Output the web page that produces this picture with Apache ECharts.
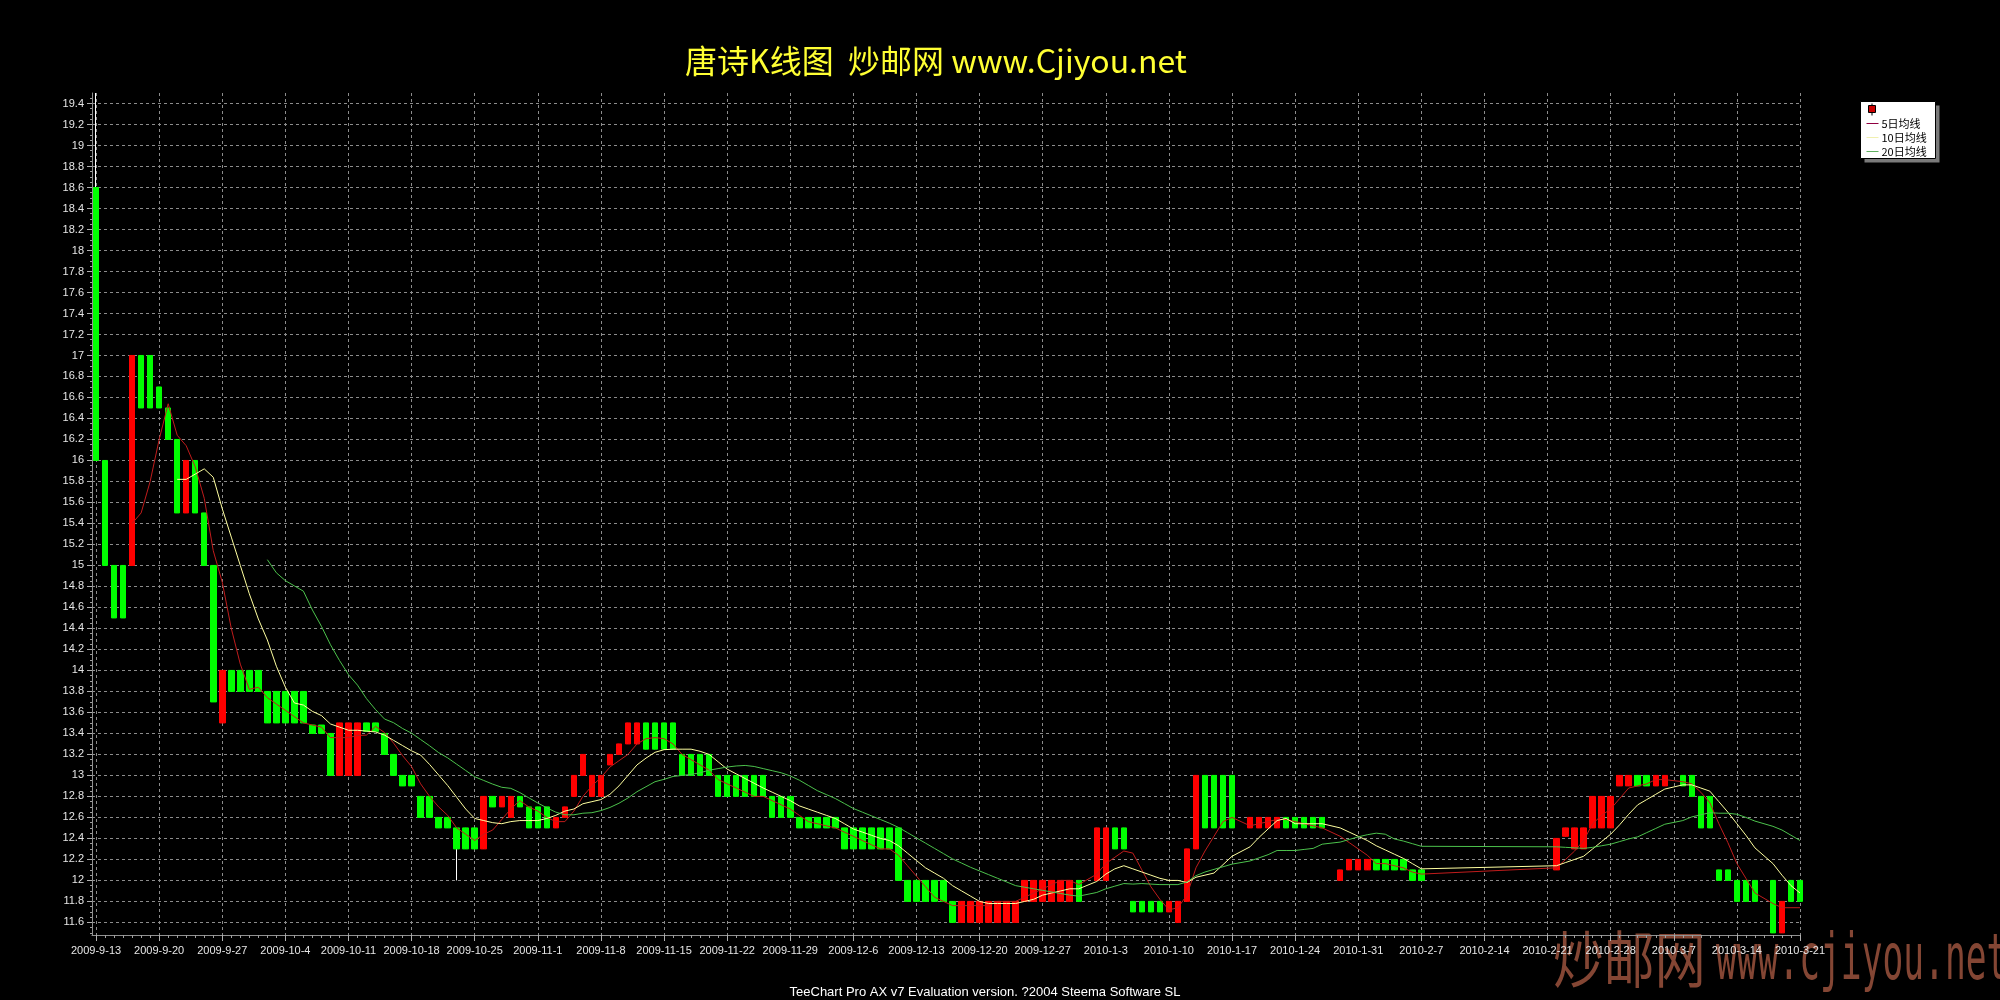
<!DOCTYPE html>
<html><head><meta charset="utf-8">
<script src="https://cdn.jsdelivr.net/npm/echarts@6/dist/echarts.min.js"></script>
<style>html,body{margin:0;padding:0;background:#000;}#c{width:2000px;height:1000px;}</style>
</head><body><div id="c"></div>
<script>
// ---- data (one candle per trading day) ----
const dates = [
'2009-09-13','2009-09-14','2009-09-15','2009-09-16','2009-09-17','2009-09-18','2009-09-19',
'2009-09-20','2009-09-21','2009-09-22','2009-09-23','2009-09-24','2009-09-25','2009-09-26',
'2009-09-27','2009-09-28','2009-09-29','2009-09-30','2009-10-01','2009-10-02','2009-10-03',
'2009-10-04','2009-10-05','2009-10-06','2009-10-07','2009-10-08','2009-10-09','2009-10-10',
'2009-10-11','2009-10-12','2009-10-13','2009-10-14','2009-10-15','2009-10-16','2009-10-17',
'2009-10-18','2009-10-19','2009-10-20','2009-10-21','2009-10-22','2009-10-23','2009-10-24',
'2009-10-25','2009-10-26','2009-10-27','2009-10-28','2009-10-29','2009-10-30','2009-10-31',
'2009-11-01','2009-11-02','2009-11-03','2009-11-04','2009-11-05','2009-11-06','2009-11-07',
'2009-11-08','2009-11-09','2009-11-10','2009-11-11','2009-11-12','2009-11-13','2009-11-14',
'2009-11-15','2009-11-16','2009-11-17','2009-11-18','2009-11-19','2009-11-20','2009-11-21',
'2009-11-22','2009-11-23','2009-11-24','2009-11-25','2009-11-26','2009-11-27','2009-11-28',
'2009-11-29','2009-11-30','2009-12-01','2009-12-02','2009-12-03','2009-12-04','2009-12-05',
'2009-12-06','2009-12-07','2009-12-08','2009-12-09','2009-12-10','2009-12-11','2009-12-12',
'2009-12-13','2009-12-14','2009-12-15','2009-12-16','2009-12-17','2009-12-18','2009-12-19',
'2009-12-20','2009-12-21','2009-12-22','2009-12-23','2009-12-24','2009-12-25','2009-12-26',
'2009-12-27','2009-12-28','2009-12-29','2009-12-30','2009-12-31','2010-01-02',
'2010-01-03','2010-01-04','2010-01-05','2010-01-06','2010-01-07','2010-01-08','2010-01-09',
'2010-01-10','2010-01-11','2010-01-12','2010-01-13','2010-01-14','2010-01-15','2010-01-16',
'2010-01-17','2010-01-19','2010-01-20','2010-01-21','2010-01-22','2010-01-23',
'2010-01-24','2010-01-25','2010-01-26','2010-01-27','2010-01-29','2010-01-30',
'2010-01-31','2010-02-01','2010-02-02','2010-02-03','2010-02-04','2010-02-05','2010-02-06',
'2010-02-07',
'2010-02-22','2010-02-23','2010-02-24','2010-02-25','2010-02-26','2010-02-27',
'2010-02-28','2010-03-01','2010-03-02','2010-03-03','2010-03-04','2010-03-05','2010-03-06',
'2010-03-08','2010-03-09','2010-03-10','2010-03-11','2010-03-12','2010-03-13',
'2010-03-14','2010-03-15','2010-03-16','2010-03-18','2010-03-19','2010-03-20',
'2010-03-21'
];
const opens = [
18.6,16.0,15.0,15.0,15.0,17.0,17.0,
16.7,16.5,16.2,15.5,16.0,15.5,15.0,
13.5,14.0,14.0,14.0,14.0,13.8,13.8,
13.8,13.8,13.8,13.48,13.48,13.4,13.0,
13.0,13.0,13.5,13.5,13.4,13.2,13.0,
13.0,12.8,12.8,12.6,12.6,12.5,12.5,
12.5,12.3,12.8,12.7,12.6,12.8,12.7,
12.7,12.7,12.5,12.6,12.8,13.0,12.8,
12.8,13.1,13.2,13.3,13.3,13.5,13.5,
13.5,13.5,13.2,13.2,13.2,13.2,13.0,
13.0,13.0,13.0,13.0,13.0,12.8,12.8,
12.8,12.6,12.6,12.6,12.6,12.6,12.5,
12.5,12.5,12.5,12.5,12.5,12.5,12.0,
12.0,12.0,12.0,12.0,11.8,11.6,11.6,
11.6,11.6,11.6,11.6,11.6,11.8,11.8,
11.8,11.8,11.8,11.8,12.0,12.0,
12.0,12.5,12.5,11.8,11.8,11.8,11.8,
11.7,11.6,11.8,12.3,13.0,13.0,13.0,
13.0,12.5,12.5,12.5,12.5,12.6,
12.6,12.6,12.6,12.6,12.0,12.1,
12.1,12.1,12.2,12.2,12.2,12.2,12.1,
12.1,
12.1,12.42,12.3,12.3,12.5,12.5,
12.5,12.9,12.9,13.0,13.0,12.9,12.9,
13.0,13.0,12.8,12.8,12.1,12.1,
12.0,12.0,12.0,12.0,11.5,12.0,
12.0
];
const closes = [
16.0,15.0,14.5,14.5,17.0,16.5,16.5,
16.5,16.2,15.5,16.0,15.5,15.0,13.7,
14.0,13.8,13.8,13.8,13.8,13.5,13.5,
13.5,13.5,13.5,13.4,13.4,13.0,13.5,
13.5,13.5,13.42,13.42,13.2,13.0,12.9,
12.9,12.6,12.6,12.5,12.5,12.3,12.3,
12.3,12.8,12.7,12.8,12.8,12.7,12.5,
12.5,12.5,12.6,12.7,13.0,13.2,13.0,
13.0,13.2,13.3,13.5,13.5,13.25,13.25,
13.25,13.25,13.0,13.0,13.0,13.0,12.8,
12.8,12.8,12.8,12.8,12.8,12.6,12.6,
12.6,12.5,12.5,12.5,12.5,12.5,12.3,
12.3,12.3,12.3,12.3,12.3,12.0,11.8,
11.8,11.8,11.8,11.8,11.6,11.8,11.8,
11.8,11.8,11.8,11.8,11.8,12.0,12.0,
12.0,12.0,12.0,12.0,11.8,12.5,
12.5,12.3,12.3,11.7,11.7,11.7,11.7,
11.8,11.8,12.3,13.0,12.5,12.5,12.5,
12.5,12.6,12.6,12.6,12.6,12.5,
12.5,12.5,12.5,12.5,12.1,12.2,
12.2,12.2,12.1,12.1,12.1,12.1,12.0,
12.0,
12.4,12.5,12.5,12.5,12.8,12.8,
12.8,13.0,13.0,12.9,12.9,13.0,13.0,
12.9,12.8,12.5,12.5,12.0,12.0,
11.8,11.8,11.8,11.5,11.8,11.8,
11.8
];
const lows = [
16.0,15.0,14.5,14.5,15.0,16.5,16.5,
16.5,16.2,15.5,15.5,15.5,15.0,13.7,
13.5,13.8,13.8,13.8,13.8,13.5,13.5,
13.5,13.5,13.5,13.4,13.4,13.0,13.0,
13.0,13.0,13.42,13.42,13.2,13.0,12.9,
12.9,12.6,12.6,12.5,12.5,12.0,12.3,
12.3,12.3,12.7,12.7,12.6,12.7,12.5,
12.5,12.5,12.5,12.6,12.8,13.0,12.8,
12.8,13.1,13.2,13.3,13.3,13.25,13.25,
13.25,13.25,13.0,13.0,13.0,13.0,12.8,
12.8,12.8,12.8,12.8,12.8,12.6,12.6,
12.6,12.5,12.5,12.5,12.5,12.5,12.3,
12.3,12.3,12.3,12.3,12.3,12.0,11.8,
11.8,11.8,11.8,11.8,11.6,11.6,11.6,
11.6,11.6,11.6,11.6,11.6,11.8,11.8,
11.8,11.8,11.8,11.8,11.8,12.0,
12.0,12.3,12.3,11.7,11.7,11.7,11.7,
11.7,11.6,11.8,12.3,12.5,12.5,12.5,
12.5,12.5,12.5,12.5,12.5,12.5,
12.5,12.5,12.5,12.5,12.0,12.1,
12.1,12.1,12.1,12.1,12.1,12.1,12.0,
12.0,
12.1,12.42,12.3,12.3,12.5,12.5,
12.5,12.9,12.9,12.9,12.9,12.9,12.9,
12.9,12.8,12.5,12.5,12.0,12.0,
11.8,11.8,11.8,11.5,11.5,11.8,
11.8
];
const highs = [
19.5,16.0,15.0,15.0,17.0,17.0,17.0,
16.7,16.5,16.2,16.0,16.0,15.5,15.0,
14.0,14.0,14.0,14.0,14.0,13.8,13.8,
13.8,13.8,13.8,13.48,13.48,13.4,13.5,
13.5,13.5,13.5,13.5,13.4,13.2,13.0,
13.0,12.8,12.8,12.6,12.6,12.5,12.5,
12.5,12.8,12.8,12.8,12.8,12.8,12.7,
12.7,12.7,12.6,12.7,13.0,13.2,13.0,
13.0,13.2,13.3,13.5,13.5,13.5,13.5,
13.5,13.5,13.2,13.2,13.2,13.2,13.0,
13.0,13.0,13.0,13.0,13.0,12.8,12.8,
12.8,12.6,12.6,12.6,12.6,12.6,12.5,
12.5,12.5,12.5,12.5,12.5,12.5,12.0,
12.0,12.0,12.0,12.0,11.8,11.8,11.8,
11.8,11.8,11.8,11.8,11.8,12.0,12.0,
12.0,12.0,12.0,12.0,12.0,12.5,
12.5,12.5,12.5,11.8,11.8,11.8,11.8,
11.8,11.8,12.3,13.0,13.0,13.0,13.0,
13.0,12.6,12.6,12.6,12.6,12.6,
12.6,12.6,12.6,12.6,12.1,12.2,
12.2,12.2,12.2,12.2,12.2,12.2,12.1,
12.1,
12.4,12.5,12.5,12.5,12.8,12.8,
12.8,13.0,13.0,13.0,13.0,13.0,13.0,
13.0,13.0,12.8,12.8,12.1,12.1,
12.0,12.0,12.0,12.0,11.8,12.0,
12.0
];
const maPeriods = [5, 10, 20];
const maNames = ['5日均线', '10日均线', '20日均线'];
const yTickValues = [11.6,11.8,12,12.2,12.4,12.6,12.8,13,13.2,13.4,13.6,13.8,14,14.2,14.4,14.6,14.8,15,15.2,15.4,15.6,15.8,16,16.2,16.4,16.6,16.8,17,17.2,17.4,17.6,17.8,18,18.2,18.4,18.6,18.8,19,19.2,19.4];
const xTickLabels = ['2009-9-13','2009-9-20','2009-9-27','2009-10-4','2009-10-11','2009-10-18','2009-10-25','2009-11-1','2009-11-8','2009-11-15','2009-11-22','2009-11-29','2009-12-6','2009-12-13','2009-12-20','2009-12-27','2010-1-3','2010-1-10','2010-1-17','2010-1-24','2010-1-31','2010-2-7','2010-2-14','2010-2-21','2010-2-28','2010-3-7','2010-3-14','2010-3-21'];

// ---- build ----
const DAY = 86400000;
function parseDay(s) { const p = s.split('-').map(Number); return new Date(p[0], p[1] - 1, p[2]).getTime(); }
const times = dates.map(parseDay);
const xTickTimes = xTickLabels.map(parseDay);
const xMin = times[0] - 0.45 * DAY;
const xMax = xTickTimes[xTickTimes.length - 1];
const yMin = 11.48, yMax = 19.5;
// minor ticks: one per day on the time axis, four per label step on the price axis
const xMinorTicks = [];
for (let i = 0; i < xTickTimes.length - 1; i++) for (let k = 1; k < 7; k++) xMinorTicks.push(parseDay(xTickLabels[i]) + k * DAY);
const yMinorTicks = [];
for (let i = 0; i < yTickValues.length; i++) for (let k = 1; k < 4; k++) { const v = +(yTickValues[i] - k * 0.05).toFixed(2); if (v > yMin) yMinorTicks.push(v); }
[19.45].forEach(v => yMinorTicks.push(v));

const candleFull = times.map((t, i) => [t, opens[i], closes[i], lows[i], highs[i]]);
const candleBody = times.map((t, i) => [t, opens[i], closes[i], Math.min(opens[i], closes[i]), Math.max(opens[i], closes[i])]);
function movingAverage(n) {
  const out = [];
  for (let i = n - 1; i < closes.length; i++) {
    let s = 0;
    for (let j = 0; j < n; j++) s += closes[i - j];
    out.push([times[i], +(s / n).toFixed(4)]);
  }
  return out;
}
const maColors = ['#c01c1c', '#ffffa0', '#4cc24c'];
function labelOf(v) {
  let best = 0, bd = Infinity;
  xTickTimes.forEach((t, i) => { const d = Math.abs(t - v); if (d < bd) { bd = d; best = i; } });
  return bd < DAY / 2 ? xTickLabels[best] : '';
}

const chart = echarts.init(document.getElementById('c'), null, { renderer: 'canvas', width: 2000, height: 1000 });
const gridLine = { show: true, lineStyle: { color: '#8c8c8c', type: [3, 3], width: 1 } };
const hidden = { show: false };
const option = {
  backgroundColor: '#000000',
  animation: false,
  title: {
    text: '唐诗K线图  炒邮网 www.Cjiyou.net',
    left: 931, top: 40, textAlign: 'center',
    textStyle: { color: '#ffff33', fontSize: 32, fontWeight: 'normal', fontFamily: 'Noto Sans CJK SC' }
  },
  grid: { left: 92, right: 200, top: 93, bottom: 65 },
  xAxis: [{
    type: 'value', min: xMin, max: xMax,
    axisLine: { show: true, lineStyle: { color: '#909090' } },
    axisTick: { show: true, customValues: xTickTimes, length: 6, lineStyle: { color: '#b0b0b0' } },
    axisLabel: {
      customValues: xTickTimes, color: '#e6e6e6', fontSize: 11, margin: 10,
      fontFamily: 'Liberation Sans', hideOverlap: false,
      formatter: v => labelOf(v)
    },
    splitLine: gridLine
  }, {
    type: 'value', min: xMin, max: xMax, position: 'bottom',
    axisLine: hidden, axisLabel: hidden, splitLine: hidden,
    axisTick: { show: true, customValues: xMinorTicks, length: 3, lineStyle: { color: '#a0a0a0' } }
  }],
  yAxis: [{
    type: 'value', min: yMin, max: yMax,
    axisLine: { show: true, lineStyle: { color: '#909090' } },
    axisTick: { show: true, customValues: yTickValues, length: 5, lineStyle: { color: '#b0b0b0' } },
    axisLabel: {
      customValues: yTickValues, color: '#e6e6e6', fontSize: 11, margin: 8,
      fontFamily: 'Liberation Sans', formatter: v => String(+(+v).toFixed(1))
    },
    splitLine: gridLine
  }, {
    type: 'value', min: yMin, max: yMax, position: 'left',
    axisLine: hidden, axisLabel: hidden, splitLine: hidden,
    axisTick: { show: true, customValues: yMinorTicks, length: 2, lineStyle: { color: '#a0a0a0' } }
  }],
  series: [
    {
      name: 'wick', type: 'candlestick', data: candleFull, barWidth: 1,
      encode: { x: 0, y: [1, 2, 3, 4] },
      itemStyle: { color: '#ffffff', color0: '#ffffff', borderColor: '#ffffff', borderColor0: '#ffffff', borderWidth: 1 },
      z: 2, silent: true
    },
    {
      name: 'K线', type: 'candlestick', data: candleBody, barWidth: 6,
      encode: { x: 0, y: [1, 2, 3, 4] },
      itemStyle: { color: '#ff0000', color0: '#00ff00', borderColor: '#ff0000', borderColor0: '#00ff00', borderWidth: 1 },
      z: 3
    }
  ].concat(maPeriods.map((n, k) => ({
    name: maNames[k], type: 'line', data: movingAverage(n), showSymbol: false, symbol: 'none',
    smooth: false, lineStyle: { color: maColors[k], width: 1 }, z: 4
  }))),
  graphic: [
    { type: 'text', left: 1553, top: 928, z: -10, scaleX: 0.82,
      style: { text: '炒邮网', fill: 'rgba(146,78,58,0.9)', font: '62px "Noto Sans CJK SC"' } },
    { type: 'text', left: 1716, top: 930, z: -10, scaleX: 0.54,
      style: { text: 'www.cjiyou.net', fill: 'rgba(146,78,58,0.9)', font: '64px "DejaVu Sans Mono"' } },
    { type: 'text', x: 985, y: 992,
      style: { text: 'TeeChart Pro AX v7 Evaluation version. ?2004 Steema Software SL', fill: '#ffffff', font: '13px "Liberation Sans"', align: 'center', verticalAlign: 'middle' } },
    { type: 'group', left: 1860, top: 101, children: [
      { type: 'rect', shape: { x: 4, y: 4, width: 75, height: 57 }, style: { fill: '#7a7a7a' } },
      { type: 'rect', shape: { x: 0, y: 0, width: 75, height: 57 }, style: { fill: '#ffffff', stroke: '#000000', lineWidth: 1 } },
      { type: 'line', shape: { x1: 11.5, y1: 2, x2: 11.5, y2: 14 }, style: { stroke: '#000000', lineWidth: 1 } },
      { type: 'rect', shape: { x: 8, y: 4, width: 7, height: 7 }, style: { fill: '#cc0000', stroke: '#000000', lineWidth: 1 } },
      { type: 'line', shape: { x1: 6, y1: 22, x2: 18, y2: 22 }, style: { stroke: '#900040', lineWidth: 1 } },
      { type: 'line', shape: { x1: 6, y1: 36, x2: 18, y2: 36 }, style: { stroke: '#f0f0b0', lineWidth: 1 } },
      { type: 'line', shape: { x1: 6, y1: 50, x2: 18, y2: 50 }, style: { stroke: '#60b060', lineWidth: 1 } },
      { type: 'text', x: 21, y: 22, style: { text: maNames[0], fill: '#000', font: '11px "Noto Sans CJK SC"', verticalAlign: 'middle' } },
      { type: 'text', x: 21, y: 36, style: { text: maNames[1], fill: '#000', font: '11px "Noto Sans CJK SC"', verticalAlign: 'middle' } },
      { type: 'text', x: 21, y: 50, style: { text: maNames[2], fill: '#000', font: '11px "Noto Sans CJK SC"', verticalAlign: 'middle' } }
    ] }
  ]
};
chart.setOption(option);
</script>
</body></html>
